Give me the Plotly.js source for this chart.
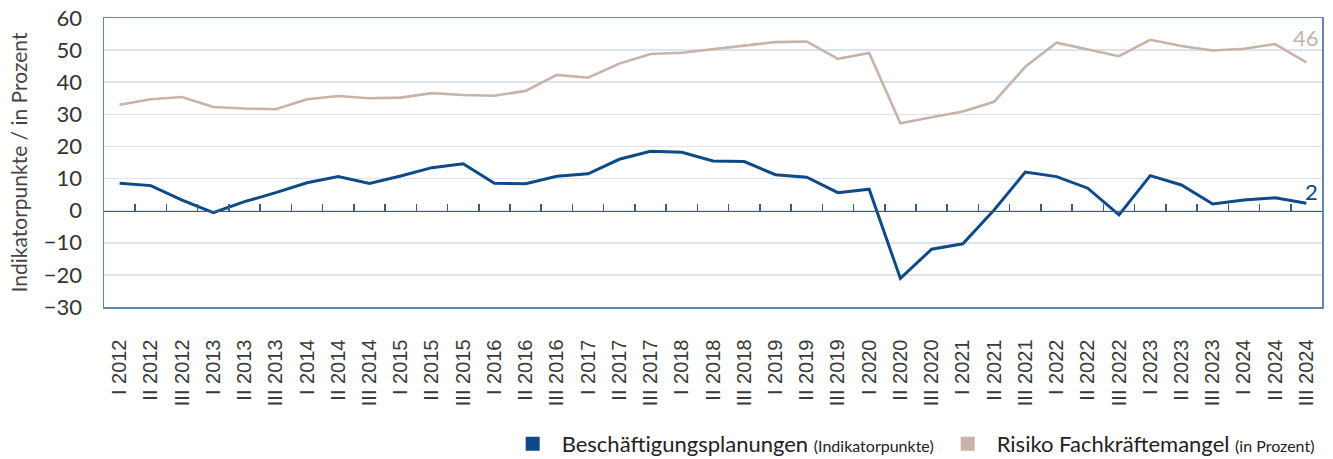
<!DOCTYPE html>
<html>
<head>
<meta charset="utf-8">
<script src="https://cdn.plot.ly/plotly-3.0.1.min.js"></script>
<style>html,body{margin:0;padding:0;background:#fff;}#chart{width:1333px;height:459px;}</style>
</head>
<body>
<div id="chart"></div>
<script>
// ---- data ----
const categories = [
  "I 2012","II 2012","III 2012","I 2013","II 2013","III 2013","I 2014","II 2014","III 2014",
  "I 2015","II 2015","III 2015","I 2016","II 2016","III 2016","I 2017","II 2017","III 2017",
  "I 2018","II 2018","III 2018","I 2019","II 2019","III 2019","I 2020","II 2020","III 2020",
  "I 2021","II 2021","III 2021","I 2022","II 2022","III 2022","I 2023","II 2023","III 2023",
  "I 2024","II 2024","III 2024"
];
const beschaeftigung = [
  8.5, 7.8, 3.3, -0.6, 2.8, 5.6, 8.7, 10.6, 8.5,
  10.8, 13.4, 14.6, 8.5, 8.4, 10.7, 11.5, 16.0, 18.5,
  18.2, 15.5, 15.3, 11.2, 10.4, 5.6, 6.7, -21.1, -12.0,
  -10.3, 0.2, 12.0, 10.6, 7.0, -1.3, 10.9, 8.0, 2.1,
  3.3, 4.0, 2.3
];
const fachkraefte = [
  33.0, 34.7, 35.4, 32.3, 31.8, 31.6, 34.7, 35.7, 35.0,
  35.2, 36.6, 36.0, 35.8, 37.3, 42.3, 41.4, 45.8, 48.8,
  49.2, 50.3, 51.6, 52.5, 52.7, 47.3, 49.1, 27.2, 29.1,
  30.9, 33.9, 44.8, 52.3, 50.3, 48.1, 53.2, 51.3, 49.9,
  50.4, 51.9, 46.2
];
const seriesNames = [
  'Beschäftigungsplanungen <span style="font-size:16px">(Indikatorpunkte)</span>',
  'Risiko Fachkräftemangel <span style="font-size:16px">(in Prozent)</span>'
];
const endLabels = ["2", "46"];
const yTitle = "Indikatorpunkte / in Prozent";

// ---- styles ----
const blue = "#0d4a87";
const tan = "#c7b3a8";
const frame = "#5f86b3";
const hum = "Lato, 'Open Sans', sans-serif";
const n = categories.length;
const boundaries = categories.map((c, i) => i - 0.5);

const traces = [
  {x: categories, y: beschaeftigung, type: "scatter", mode: "lines",
   line: {color: blue, width: 3}, showlegend: false, hoverinfo: "skip"},
  {x: categories, y: fachkraefte, type: "scatter", mode: "lines",
   line: {color: tan, width: 2.6}, showlegend: false, hoverinfo: "skip"},
  {x: [null], y: [null], type: "scatter", mode: "markers", name: seriesNames[0],
   marker: {symbol: "square", size: 14, color: blue}},
  {x: [null], y: [null], type: "scatter", mode: "markers", name: seriesNames[1],
   marker: {symbol: "square", size: 14, color: tan}},
  {x: [], y: [], xaxis: "x2", type: "scatter", mode: "lines", showlegend: false, hoverinfo: "skip"}
];

const layout = {
  width: 1333, height: 459,
  margin: {l: 104, r: 11, t: 18, b: 152, autoexpand: false},
  paper_bgcolor: "#ffffff", plot_bgcolor: "#ffffff",
  showlegend: true,
  xaxis: {
    type: "category", categoryorder: "array", categoryarray: categories,
    range: [-0.5, n - 0.5], tickangle: -90,
    tickfont: {family: "Liberation Sans, Arial, sans-serif", size: 20, color: "#3a3a3a"},
    ticks: "", showgrid: false, zeroline: false,
    showline: true, linecolor: frame, linewidth: 1.5, mirror: true,
    ticklabelstandoff: 23, automargin: false
  },
  xaxis2: {
    overlaying: "x", anchor: "free", position: 1/3, side: "bottom",
    type: "linear", range: [-0.5, n - 0.5],
    tickmode: "array", tickvals: boundaries, ticks: "inside", ticklen: 7,
    tickwidth: 1.5, tickcolor: "#2d5f95",
    showline: true, linecolor: "#2d5f95", linewidth: 1.5,
    showticklabels: false, showgrid: false, zeroline: false
  },
  yaxis: {
    range: [-30, 60], dtick: 10, tick0: 0,
    tickfont: {family: hum, size: 22, color: "#333"},
    showgrid: true, gridcolor: "#dde4ee", gridwidth: 1.5,
    zeroline: false, ticks: "",
    showline: true, linecolor: frame, linewidth: 1.5, mirror: true,
    ticklabelstandoff: 16, automargin: false,
    title: {text: yTitle, font: {family: hum, size: 21, color: "#444"}, standoff: 10}
  },
  legend: {
    orientation: "h", xref: "container", yref: "container",
    x: 0.990, xanchor: "right", y: 0.0327, yanchor: "middle",
    font: {family: hum, size: 22, color: "#222"},
    itemwidth: 48, bgcolor: "rgba(0,0,0,0)"
  },
  annotations: [
    {x: categories[n - 1], y: beschaeftigung[n - 1], text: endLabels[0], showarrow: false,
     xshift: 5, yshift: 12, font: {family: hum, size: 22, color: blue}},
    {x: categories[n - 1], y: fachkraefte[n - 1], text: endLabels[1], showarrow: false,
     xshift: 0, yshift: 25, font: {family: hum, size: 22, color: tan}}
  ]
};

Plotly.newPlot("chart", traces, layout, {displayModeBar: false, staticPlot: true});
</script>
</body>
</html>
